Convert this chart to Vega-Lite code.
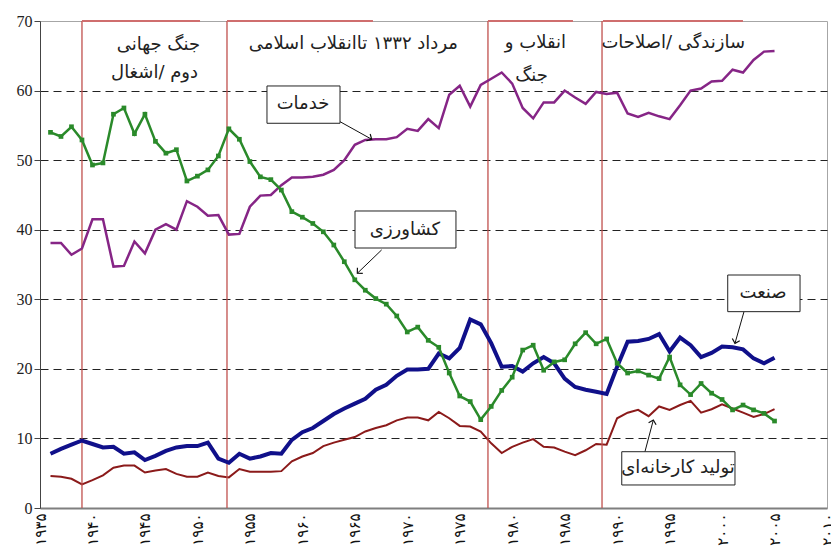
{
  "$schema": "https://vega.github.io/schema/vega-lite/v6.json",
  "width": 787,
  "height": 487,
  "autosize": {"type": "none"},
  "padding": {"left": 40, "top": 21, "right": 4, "bottom": 39},
  "background": "white",
  "config": {"view": {"stroke": "#a6a6a6", "strokeWidth": 1}},
  "datasets": {
    "series": [
      {"year":1936,"s":38.1,"a":54.0,"i":7.8,"m":4.6},
      {"year":1937,"s":38.1,"a":53.4,"i":8.5,"m":4.5},
      {"year":1938,"s":36.4,"a":54.8,"i":9.1,"m":4.2},
      {"year":1939,"s":37.3,"a":52.9,"i":9.7,"m":3.4},
      {"year":1940,"s":41.5,"a":49.3,"i":9.2,"m":4.0},
      {"year":1941,"s":41.5,"a":49.6,"i":8.7,"m":4.7},
      {"year":1942,"s":34.7,"a":56.6,"i":8.8,"m":5.8},
      {"year":1943,"s":34.8,"a":57.5,"i":7.8,"m":6.1},
      {"year":1944,"s":38.3,"a":53.8,"i":8.0,"m":6.1},
      {"year":1945,"s":36.6,"a":56.6,"i":6.9,"m":5.1},
      {"year":1946,"s":40.0,"a":52.7,"i":7.5,"m":5.4},
      {"year":1947,"s":40.8,"a":51.0,"i":8.2,"m":5.6},
      {"year":1948,"s":40.0,"a":51.5,"i":8.7,"m":4.9},
      {"year":1949,"s":44.1,"a":47.0,"i":8.9,"m":4.5},
      {"year":1950,"s":43.3,"a":47.7,"i":8.9,"m":4.5},
      {"year":1951,"s":42.0,"a":48.6,"i":9.4,"m":5.1},
      {"year":1952,"s":42.1,"a":50.6,"i":7.1,"m":4.6},
      {"year":1953,"s":39.3,"a":54.5,"i":6.5,"m":4.4},
      {"year":1954,"s":39.4,"a":53.0,"i":7.8,"m":5.6},
      {"year":1955,"s":43.3,"a":49.8,"i":7.1,"m":5.2},
      {"year":1956,"s":44.9,"a":47.6,"i":7.4,"m":5.2},
      {"year":1957,"s":45.0,"a":47.2,"i":7.9,"m":5.2},
      {"year":1958,"s":46.4,"a":45.7,"i":7.8,"m":5.3},
      {"year":1959,"s":47.5,"a":42.6,"i":9.8,"m":6.7},
      {"year":1960,"s":47.5,"a":41.8,"i":10.9,"m":7.4},
      {"year":1961,"s":47.6,"a":40.9,"i":11.5,"m":7.9},
      {"year":1962,"s":47.9,"a":39.7,"i":12.5,"m":8.9},
      {"year":1963,"s":48.6,"a":37.8,"i":13.5,"m":9.4},
      {"year":1964,"s":50.0,"a":35.4,"i":14.3,"m":9.8},
      {"year":1965,"s":52.2,"a":32.8,"i":15.0,"m":10.2},
      {"year":1966,"s":52.9,"a":31.3,"i":15.7,"m":11.0},
      {"year":1967,"s":53.0,"a":30.1,"i":17.0,"m":11.5},
      {"year":1968,"s":53.0,"a":29.3,"i":17.7,"m":11.9},
      {"year":1969,"s":53.3,"a":27.6,"i":19.0,"m":12.6},
      {"year":1970,"s":54.5,"a":25.3,"i":19.9,"m":13.0},
      {"year":1971,"s":54.2,"a":26.0,"i":19.9,"m":13.0},
      {"year":1972,"s":55.9,"a":24.1,"i":20.0,"m":12.6},
      {"year":1973,"s":54.6,"a":23.1,"i":22.2,"m":13.8},
      {"year":1974,"s":59.4,"a":19.4,"i":21.5,"m":12.9},
      {"year":1975,"s":60.7,"a":16.1,"i":23.0,"m":11.8},
      {"year":1976,"s":57.7,"a":15.3,"i":27.1,"m":11.7},
      {"year":1977,"s":60.8,"a":12.7,"i":26.4,"m":11.0},
      {"year":1978,"s":61.7,"a":14.6,"i":23.7,"m":9.3},
      {"year":1979,"s":62.6,"a":16.9,"i":20.3,"m":7.9},
      {"year":1980,"s":61.0,"a":18.8,"i":20.4,"m":8.8},
      {"year":1981,"s":57.5,"a":22.7,"i":19.6,"m":9.4},
      {"year":1982,"s":56.0,"a":23.4,"i":20.8,"m":9.9},
      {"year":1983,"s":58.3,"a":19.8,"i":21.7,"m":8.8},
      {"year":1984,"s":58.3,"a":21.0,"i":20.8,"m":8.7},
      {"year":1985,"s":60.0,"a":21.3,"i":18.6,"m":8.1},
      {"year":1986,"s":59.0,"a":23.6,"i":17.4,"m":7.6},
      {"year":1987,"s":58.1,"a":25.2,"i":17.0,"m":8.3},
      {"year":1988,"s":59.8,"a":23.6,"i":16.7,"m":9.2},
      {"year":1989,"s":59.5,"a":24.3,"i":16.4,"m":9.1},
      {"year":1990,"s":59.7,"a":20.8,"i":20.3,"m":12.9},
      {"year":1991,"s":56.7,"a":19.4,"i":23.9,"m":13.7},
      {"year":1992,"s":56.2,"a":19.7,"i":24.0,"m":14.1},
      {"year":1993,"s":56.8,"a":19.1,"i":24.3,"m":13.2},
      {"year":1994,"s":56.3,"a":18.6,"i":25.0,"m":14.6},
      {"year":1995,"s":55.9,"a":21.7,"i":22.5,"m":14.1},
      {"year":1996,"s":57.9,"a":17.7,"i":24.5,"m":14.8},
      {"year":1997,"s":60.0,"a":16.3,"i":23.4,"m":15.4},
      {"year":1998,"s":60.3,"a":17.9,"i":21.7,"m":13.7},
      {"year":1999,"s":61.3,"a":16.5,"i":22.3,"m":14.2},
      {"year":2000,"s":61.4,"a":15.6,"i":23.2,"m":14.9},
      {"year":2001,"s":63.0,"a":14.1,"i":23.1,"m":14.3},
      {"year":2002,"s":62.6,"a":14.8,"i":22.8,"m":13.7},
      {"year":2003,"s":64.4,"a":14.1,"i":21.5,"m":13.1},
      {"year":2004,"s":65.6,"a":13.6,"i":20.8,"m":13.5},
      {"year":2005,"s":65.7,"a":12.5,"i":21.6,"m":14.2}
    ],
    "periods": [
      {"x":1939.0,"x1":1939.0,"x2":1950.25},
      {"x":1952.82,"x1":1952.82,"x2":1966.73},
      {"x":1977.69,"x1":1977.69,"x2":1985.79},
      {"x":1988.56,"x1":1988.65,"x2":2001.99}
    ],
    "ptext": [
      {"t":"جنگ جهانی","x":1950.25,"y":66.6},
      {"t":"دوم /اشغال","x":1950.06,"y":62.5},
      {"t":"مرداد ۱۳۳۲ تاانقلاب اسلامی","x":1974.83,"y":66.7},
      {"t":"انقلاب و","x":1985.13,"y":66.8},
      {"t":"جنگ","x":1983.4,"y":62.1},
      {"t":"سازندگی /اصلاحات","x":2002.19,"y":66.8}
    ],
    "callouts": [
      {"t":"خدمات","bx1":1956.63,"bx2":1963.59,"by1":60.66,"by2":55.3,"tx":1960.06,"ty":58.0,"ax1":1963.59,"ay1":55.53,"ax2":1966.61,"ay2":53.0},
      {"t":"کشاورزی","bx1":1965.02,"bx2":1974.64,"by1":42.69,"by2":37.37,"tx":1969.78,"ty":40.0,"ax1":1967.56,"ay1":37.1,"ax2":1965.24,"ay2":33.74},
      {"t":"صنعت","bx1":2000.54,"bx2":2007.43,"by1":33.49,"by2":28.22,"tx":2003.9,"ty":30.9,"ax1":2002.09,"ay1":28.22,"ax2":2001.23,"ay2":23.67},
      {"t":"تولید کارخانه‌ای","bx1":1990.44,"bx2":2001.23,"by1":8.09,"by2":3.31,"tx":1995.8,"ty":5.7,"ax1":1992.65,"ay1":8.09,"ax2":1993.45,"ay2":12.65}
    ]
  },
  "layer": [
    {
      "data": {"name": "series"},
      "mark": {"type": "line", "color": "#8b1a1a", "strokeWidth": 2},
      "encoding": {
        "x": {"field": "year", "type": "quantitative", "title": null,
          "scale": {"domain": [1935, 2010], "nice": false, "zero": false},
          "axis": {
            "values": [1935,1940,1945,1950,1955,1960,1965,1970,1975,1980,1985,1990,1995,2000,2005,2010],
            "format": "d",
            "labelExpr": "replace(replace(replace(replace(replace(replace(replace(replace(replace(replace(datum.label,regexp('0','g'),'۰'),regexp('1','g'),'۱'),regexp('2','g'),'۲'),regexp('3','g'),'۳'),regexp('4','g'),'۴'),regexp('5','g'),'۵'),regexp('6','g'),'۶'),regexp('7','g'),'۷'),regexp('8','g'),'۸'),regexp('9','g'),'۹')",
            "labelAngle": -90,
            "labelFont": "DejaVu Sans",
            "labelFontSize": 15,
            "labelColor": "#111",
            "labelPadding": 5,
            "labelOverlap": false,
            "labelFlush": false,
            "ticks": false,
            "grid": false,
            "domainColor": "#7f7f7f",
            "domainWidth": 2,
            "title": null
          }
        },
        "y": {"field": "m", "type": "quantitative", "title": null,
          "scale": {"domain": [0, 70], "nice": false},
          "axis": {
            "values": [0,10,20,30,40,50,60,70],
            "grid": true,
            "gridDash": [8, 5],
            "gridColor": "#222",
            "gridWidth": 1,
            "gridOpacity": {"condition": {"test": "datum.value == 0 || datum.value == 70", "value": 0}, "value": 1},
            "labelFont": "Liberation Serif",
            "labelFontSize": 16,
            "labelColor": "#222",
            "labelPadding": 2,
            "tickColor": "#444",
            "tickSize": 6,
            "domainColor": "#444",
            "title": null
          }
        }
      }
    },
    {
      "data": {"name": "periods"},
      "mark": {"type": "rule", "color": "#c0504d", "strokeWidth": 1.3},
      "encoding": {
        "x": {"field": "x", "type": "quantitative", "title": null, "scale": {"domain": [1935, 2010], "nice": false, "zero": false}}
      }
    },
    {
      "data": {"name": "periods"},
      "mark": {"type": "rule", "color": "#cf6e6e", "strokeWidth": 2},
      "encoding": {
        "x": {"field": "x1", "type": "quantitative", "title": null, "scale": {"domain": [1935, 2010], "nice": false, "zero": false}},
        "x2": {"field": "x2"},
        "y": {"datum": 70, "type": "quantitative", "title": null, "scale": {"domain": [0, 70], "nice": false}}
      }
    },
    {
      "data": {"name": "series"},
      "mark": {"type": "line", "color": "#862586", "strokeWidth": 2.5},
      "encoding": {
        "x": {"field": "year", "type": "quantitative", "title": null, "scale": {"domain": [1935, 2010], "nice": false, "zero": false}},
        "y": {"field": "s", "type": "quantitative", "title": null, "scale": {"domain": [0, 70], "nice": false}}
      }
    },
    {
      "data": {"name": "series"},
      "mark": {"type": "line", "color": "#10108a", "strokeWidth": 4},
      "encoding": {
        "x": {"field": "year", "type": "quantitative", "title": null, "scale": {"domain": [1935, 2010], "nice": false, "zero": false}},
        "y": {"field": "i", "type": "quantitative", "title": null, "scale": {"domain": [0, 70], "nice": false}}
      }
    },
    {
      "data": {"name": "series"},
      "mark": {"type": "line", "color": "#2a8a2a", "strokeWidth": 2.5},
      "encoding": {
        "x": {"field": "year", "type": "quantitative", "title": null, "scale": {"domain": [1935, 2010], "nice": false, "zero": false}},
        "y": {"field": "a", "type": "quantitative", "title": null, "scale": {"domain": [0, 70], "nice": false}}
      }
    },
    {
      "data": {"name": "series"},
      "mark": {"type": "square", "color": "#2a8a2a", "size": 22, "opacity": 1},
      "encoding": {
        "x": {"field": "year", "type": "quantitative", "title": null, "scale": {"domain": [1935, 2010], "nice": false, "zero": false}},
        "y": {"field": "a", "type": "quantitative", "title": null, "scale": {"domain": [0, 70], "nice": false}}
      }
    },
    {
      "data": {"name": "callouts"},
      "mark": {"type": "rule", "color": "#111", "strokeWidth": 1},
      "encoding": {
        "x": {"field": "ax1", "type": "quantitative", "title": null, "scale": {"domain": [1935, 2010], "nice": false, "zero": false}},
        "x2": {"field": "ax2"},
        "y": {"field": "ay1", "type": "quantitative", "title": null, "scale": {"domain": [0, 70], "nice": false}},
        "y2": {"field": "ay2"}
      }
    },
    {
      "data": {"name": "callouts"},
      "transform": [
        {"calculate": "atan2((datum.ax2 - datum.ax1) * 787 / 75, (datum.ay2 - datum.ay1) * 487 / 70) * 180 / PI", "as": "ang"}
      ],
      "mark": {"type": "point", "shape": "M-1,1L0,0L1,1", "filled": false, "stroke": "#111", "strokeWidth": 1.2, "size": 60, "opacity": 1},
      "encoding": {
        "x": {"field": "ax2", "type": "quantitative", "title": null, "scale": {"domain": [1935, 2010], "nice": false, "zero": false}},
        "y": {"field": "ay2", "type": "quantitative", "title": null, "scale": {"domain": [0, 70], "nice": false}},
        "angle": {"field": "ang", "type": "quantitative", "scale": null}
      }
    },
    {
      "data": {"name": "callouts"},
      "mark": {"type": "rect", "fill": "white", "stroke": "#222", "strokeWidth": 1},
      "encoding": {
        "x": {"field": "bx1", "type": "quantitative", "title": null, "scale": {"domain": [1935, 2010], "nice": false, "zero": false}},
        "x2": {"field": "bx2"},
        "y": {"field": "by1", "type": "quantitative", "title": null, "scale": {"domain": [0, 70], "nice": false}},
        "y2": {"field": "by2"}
      }
    },
    {
      "data": {"name": "callouts"},
      "mark": {"type": "text", "font": "DejaVu Sans", "fontSize": 18, "color": "#222", "align": "center", "baseline": "middle"},
      "encoding": {
        "x": {"field": "tx", "type": "quantitative", "title": null, "scale": {"domain": [1935, 2010], "nice": false, "zero": false}},
        "y": {"field": "ty", "type": "quantitative", "title": null, "scale": {"domain": [0, 70], "nice": false}},
        "text": {"field": "t"}
      }
    },
    {
      "data": {"name": "ptext"},
      "mark": {"type": "text", "font": "DejaVu Sans", "fontSize": 18, "color": "#222", "align": "right", "baseline": "middle"},
      "encoding": {
        "x": {"field": "x", "type": "quantitative", "title": null, "scale": {"domain": [1935, 2010], "nice": false, "zero": false}},
        "y": {"field": "y", "type": "quantitative", "title": null, "scale": {"domain": [0, 70], "nice": false}},
        "text": {"field": "t"}
      }
    }
  ]
}
